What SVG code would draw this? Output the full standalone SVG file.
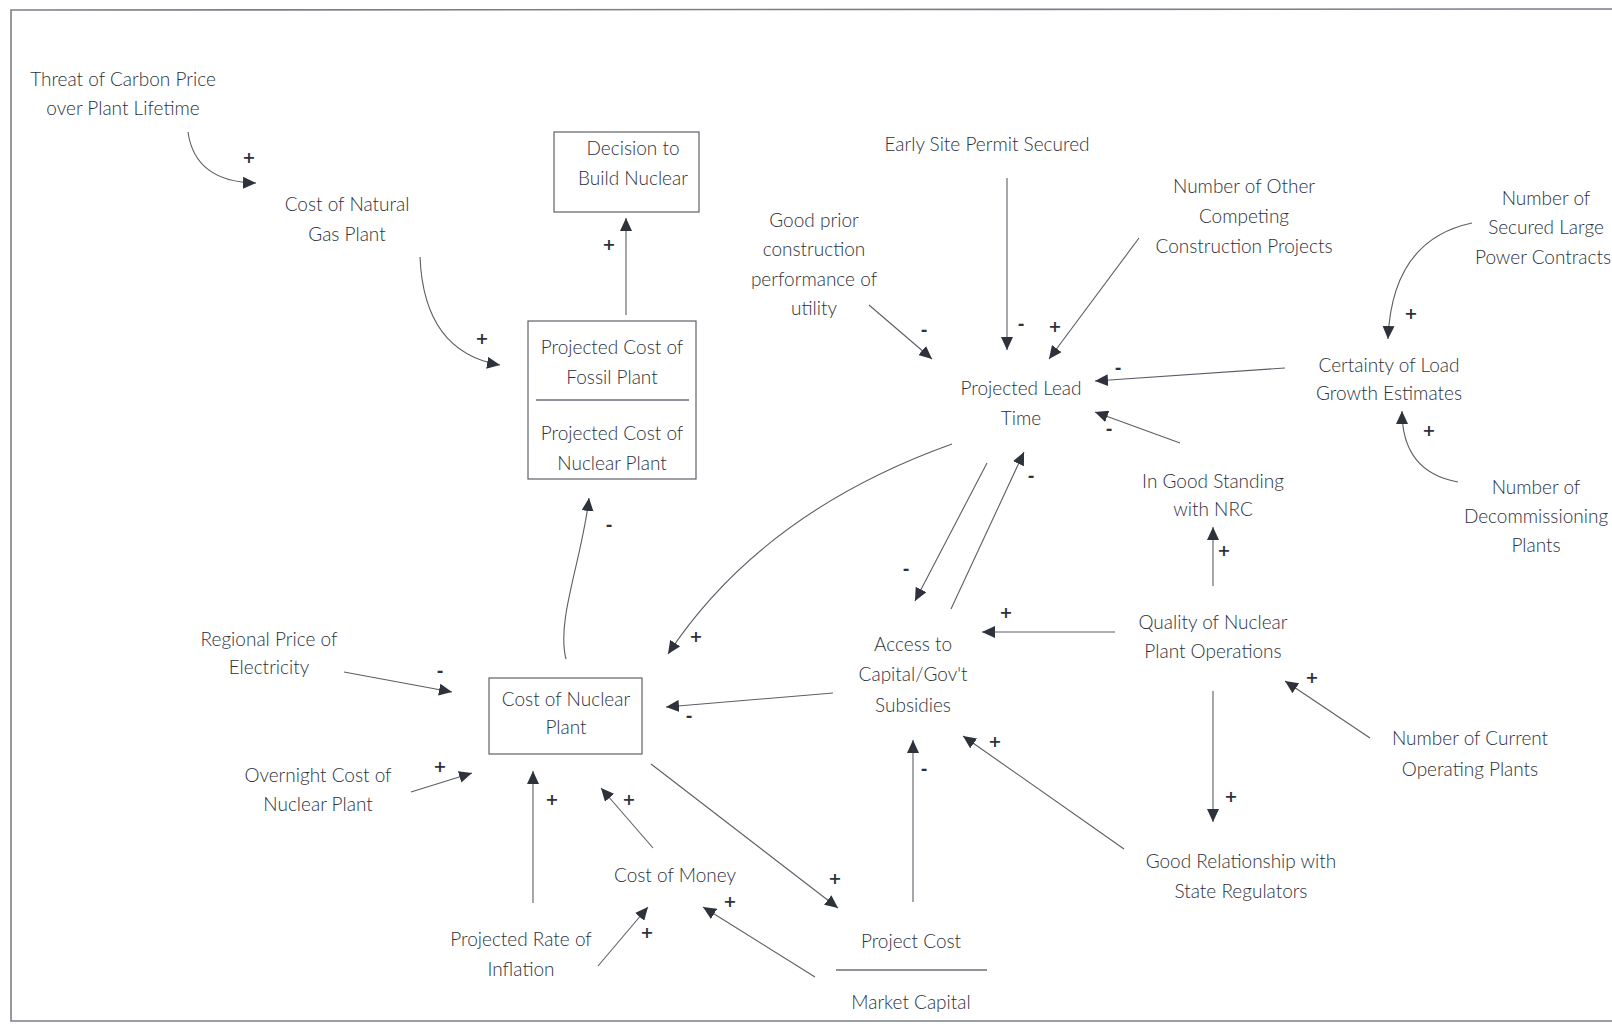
<svg xmlns="http://www.w3.org/2000/svg" width="1612" height="1024" viewBox="0 0 1612 1024">
<defs>
<style>
.n text{font-family:Lato,"Open Sans","DejaVu Sans",sans-serif;font-size:19px;font-weight:300;fill:#2c313c;text-anchor:middle}
.box{fill:none;stroke:#6a6e76;stroke-width:1.3}
.c path{fill:none;stroke:#5a5e66;stroke-width:1.1;marker-end:url(#ah)}
.s text{font-family:"DejaVu Sans",sans-serif;font-size:16px;font-weight:bold;fill:#2e323a;text-anchor:middle}
</style>
<marker id="ah" markerUnits="userSpaceOnUse" markerWidth="14" markerHeight="12" refX="13" refY="6" orient="auto">
<path d="M0,0 L13,6 L0,12 Z" fill="#2e323a"/>
</marker>
</defs>
<rect width="1612" height="1024" fill="#ffffff"/>
<path d="M1630,9 L11,10 L11,1021 L1630,1021" fill="none" stroke="#7a7f88" stroke-width="1.6"/>

<g id="threat" class="n"><text x="123" y="86">Threat of Carbon Price</text><text x="123" y="115">over Plant Lifetime</text></g>
<g id="costNG" class="n"><text x="347" y="211">Cost of Natural</text><text x="347" y="241">Gas Plant</text></g>
<g id="decision" class="n"><rect class="box" x="554" y="132" width="145" height="80"/><text x="633" y="155">Decision to</text><text x="633" y="185">Build Nuclear</text></g>
<g id="projected" class="n"><rect class="box" x="528" y="321" width="168" height="158"/><text x="612" y="354">Projected Cost of</text><text x="612" y="384">Fossil Plant</text><line x1="536" y1="400" x2="689" y2="400" stroke="#6a6e76" stroke-width="1.3"/><text x="612" y="440">Projected Cost of</text><text x="612" y="470">Nuclear Plant</text></g>
<g id="earlySite" class="n"><text x="987" y="151">Early Site Permit Secured</text></g>
<g id="goodPrior" class="n"><text x="814" y="227">Good prior</text><text x="814" y="256">construction</text><text x="814" y="286">performance of</text><text x="814" y="315">utility</text></g>
<g id="numOther" class="n"><text x="1244" y="193">Number of Other</text><text x="1244" y="223">Competing</text><text x="1244" y="253">Construction Projects</text></g>
<g id="numSecured" class="n"><text x="1546" y="205">Number of</text><text x="1546" y="234">Secured Large</text><text x="1543" y="264">Power Contracts</text></g>
<g id="certainty" class="n"><text x="1389" y="372">Certainty of Load</text><text x="1389" y="400">Growth Estimates</text></g>
<g id="leadTime" class="n"><text x="1021" y="395">Projected Lead</text><text x="1021" y="425">Time</text></g>
<g id="nrc" class="n"><text x="1213" y="488">In Good Standing</text><text x="1213" y="516">with NRC</text></g>
<g id="decom" class="n"><text x="1536" y="494">Number of</text><text x="1536" y="523">Decommissioning</text><text x="1536" y="552">Plants</text></g>
<g id="quality" class="n"><text x="1213" y="629">Quality of Nuclear</text><text x="1213" y="658">Plant Operations</text></g>
<g id="access" class="n"><text x="913" y="651">Access to</text><text x="913" y="681">Capital/Gov't</text><text x="913" y="712">Subsidies</text></g>
<g id="regional" class="n"><text x="269" y="646">Regional Price of</text><text x="269" y="674">Electricity</text></g>
<g id="costNuclear" class="n"><rect class="box" x="489" y="678" width="153" height="76"/><text x="566" y="706">Cost of Nuclear</text><text x="566" y="734">Plant</text></g>
<g id="overnight" class="n"><text x="318" y="782">Overnight Cost of</text><text x="318" y="811">Nuclear Plant</text></g>
<g id="numCurrent" class="n"><text x="1470" y="745">Number of Current</text><text x="1470" y="776">Operating Plants</text></g>
<g id="costMoney" class="n"><text x="675" y="882">Cost of Money</text></g>
<g id="goodRel" class="n"><text x="1241" y="868">Good Relationship with</text><text x="1241" y="898">State Regulators</text></g>
<g id="inflation" class="n"><text x="521" y="946">Projected Rate of</text><text x="521" y="976">Inflation</text></g>
<g id="projectCost" class="n"><text x="911" y="948">Project Cost</text><line x1="836" y1="970" x2="987" y2="970" stroke="#6a6e76" stroke-width="1.3"/><text x="911" y="1009">Market Capital</text></g>

<g id="connectors" class="c">
<path d="M188,132 Q195,182 256,183"/>
<path d="M420,257 Q424,352 500,365"/>
<path d="M626,315 L626,218"/>
<path d="M566,659 C556,620 582,560 589,498"/>
<path d="M952,444 Q762,512 668,654"/>
<path d="M869,305 L932,359"/>
<path d="M1007,178 L1007,350"/>
<path d="M1139,238 L1049,359"/>
<path d="M1285,368 L1095,381"/>
<path d="M1180,443 L1095,412"/>
<path d="M987,463 L915,601"/>
<path d="M951,609 L1024,452"/>
<path d="M1115,632 L982,632"/>
<path d="M1213,586 L1213,527"/>
<path d="M1213,691 L1213,822"/>
<path d="M1370,738 L1285,681"/>
<path d="M1124,849 L963,736"/>
<path d="M913,902 L913,740"/>
<path d="M833,693 L666,707"/>
<path d="M1472,223 Q1392,240 1388,339"/>
<path d="M1458,482 Q1402,472 1402,411"/>
<path d="M344,672 L452,692"/>
<path d="M411,792 L472,773"/>
<path d="M533,903 L533,771"/>
<path d="M653,848 L601,788"/>
<path d="M598,966 L648,907"/>
<path d="M815,977 L703,907"/>
<path d="M651,764 L838,908"/>
</g>

<g id="signs" class="s">
<text x="249" y="163">+</text>
<text x="482" y="344">+</text>
<text x="609" y="250">+</text>
<text x="609" y="530">-</text>
<text x="696" y="642">+</text>
<text x="924" y="335">-</text>
<text x="1021" y="329">-</text>
<text x="1055" y="332">+</text>
<text x="1118" y="373">-</text>
<text x="1109" y="434">-</text>
<text x="906" y="574">-</text>
<text x="1031" y="481">-</text>
<text x="1006" y="618">+</text>
<text x="1224" y="556">+</text>
<text x="1231" y="802">+</text>
<text x="1312" y="683">+</text>
<text x="995" y="747">+</text>
<text x="924" y="774">-</text>
<text x="689" y="721">-</text>
<text x="1411" y="319">+</text>
<text x="1429" y="436">+</text>
<text x="440" y="676">-</text>
<text x="440" y="772">+</text>
<text x="552" y="805">+</text>
<text x="629" y="805">+</text>
<text x="647" y="938">+</text>
<text x="730" y="907">+</text>
<text x="835" y="884">+</text>
</g>
</svg>
